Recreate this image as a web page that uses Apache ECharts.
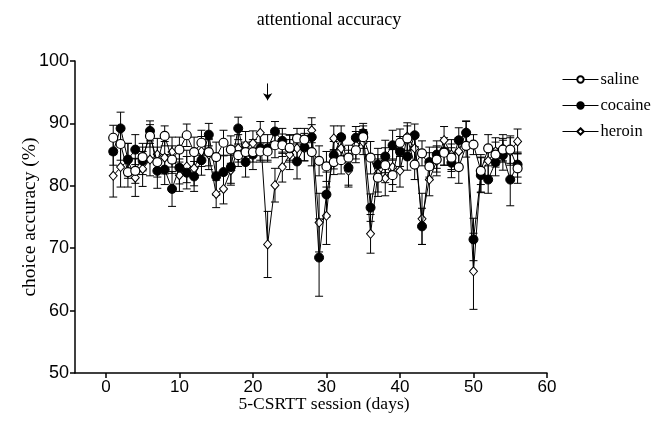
<!DOCTYPE html>
<html><head><meta charset="utf-8">
<script src="https://cdn.jsdelivr.net/npm/echarts@6/dist/echarts.min.js"></script>
<style>html,body{margin:0;padding:0;background:#fff}#c{width:658px;height:435px}</style>
</head><body><div id="c"></div>
<script>
var sessions = [];
for (var i = 1; i <= 56; i++) sessions.push(i);
var xTicks = [0, 10, 20, 30, 40, 50, 60];
var salineMean = [87.7,86.7,82.2,82.4,84.6,88.0,83.8,88.0,84.2,85.8,88.1,85.4,86.9,85.4,84.6,86.9,85.8,84.9,85.4,85.4,85.5,85.5,86.5,86.5,86.1,87.6,87.4,85.4,84.0,83.1,83.8,84.1,84.5,85.7,87.8,84.5,81.3,83.3,81.7,86.9,87.6,83.4,85.2,83.1,84.2,85.3,84.5,83.0,86.4,86.6,82.4,86.0,85.0,85.8,85.8,82.8];
var salineSem = [2.0,2.6,2.4,2.0,2.2,1.8,2.4,1.6,2.2,2.0,1.8,2.4,2.0,2.2,2.4,2.0,2.2,1.8,1.6,1.6,1.4,1.4,2.0,1.8,2.0,1.6,1.8,2.2,2.4,2.4,2.0,2.2,2.0,2.0,1.8,2.6,3.0,2.8,2.6,2.2,2.0,2.4,2.0,2.2,2.0,2.0,2.2,2.6,1.8,1.6,2.2,2.2,2.0,1.8,2.2,2.4];
var cocaineMean = [85.5,89.2,84.2,85.8,84.0,88.8,82.4,82.6,79.5,82.9,82.1,81.5,84.1,88.2,81.5,82.2,83.0,89.2,83.8,85.0,86.0,86.0,88.7,87.2,86.0,83.9,86.2,87.8,68.5,78.6,84.9,87.8,82.9,87.7,88.4,76.5,83.4,84.7,86.5,85.5,84.7,88.1,73.5,83.8,85.0,85.5,83.7,87.3,88.5,71.4,81.7,81.0,83.8,84.9,81.0,83.4];
var cocaineSem = [2.2,2.6,2.6,2.4,2.2,1.6,2.8,2.4,2.8,2.6,2.6,2.4,2.4,1.8,3.0,2.6,2.6,1.8,2.4,2.4,2.2,2.2,1.6,2.0,2.2,2.8,2.2,2.0,6.2,3.6,2.2,1.8,2.8,1.8,1.6,2.2,2.6,2.6,2.4,2.4,2.2,1.8,2.9,2.4,2.2,2.2,2.4,2.0,1.8,3.4,2.8,2.2,2.2,2.4,4.2,2.0];
var heroinMean = [81.6,83.0,84.0,81.3,82.7,84.2,85.0,84.5,85.4,81.7,83.1,82.8,85.5,85.0,78.7,79.5,82.5,86.0,86.5,86.8,88.5,70.6,80.1,83.0,85.0,86.0,86.0,88.9,74.1,75.2,87.6,86.0,82.4,86.5,87.0,72.3,82.0,81.2,83.0,82.4,87.9,86.0,74.7,81.0,84.0,87.3,85.0,85.5,88.6,66.3,82.0,84.0,85.5,86.0,85.5,87.1];
var heroinSem = [3.4,3.2,2.8,3.0,2.8,2.6,2.6,2.6,2.4,2.6,2.6,2.8,2.4,2.4,2.2,2.4,2.4,2.2,2.2,2.0,1.8,5.3,2.7,2.4,2.4,2.2,2.0,2.0,4.7,4.6,2.0,2.2,2.6,2.2,2.0,3.1,3.0,2.8,2.8,2.6,2.2,2.4,4.1,2.6,2.4,2.2,2.4,2.2,1.8,6.1,3.0,2.4,2.2,2.2,2.2,2.0];
var arrowSession = 22;

function pts(m){ return sessions.map(function(s,i){ return [s, m[i]]; }); }
function errs(m, e){ return sessions.map(function(s,i){ return [s, m[i], e[i]]; }); }

function errRender(params, api){
  var x = api.value(0), y = api.value(1), e = api.value(2);
  var top = api.coord([x, y + e]), bot = api.coord([x, y - e]);
  var w = 4;
  var st = {stroke:'#000', lineWidth:1};
  return {type:'group', children:[
    {type:'line', shape:{x1:top[0], y1:top[1], x2:bot[0], y2:bot[1]}, style:st},
    {type:'line', shape:{x1:top[0]-w, y1:top[1], x2:top[0]+w, y2:top[1]}, style:st},
    {type:'line', shape:{x1:bot[0]-w, y1:bot[1], x2:bot[0]+w, y2:bot[1]}, style:st}
  ]};
}
function errSeries(m, e, z){
  return {type:'custom', data:errs(m,e), renderItem:errRender, encode:{x:0,y:1}, z:z, silent:true};
}

var chart = echarts.init(document.getElementById('c'), null, {renderer:'canvas'});
chart.setOption({
  animation:false,
  backgroundColor:'#fff',
  title:{text:'attentional accuracy', left:'center', top:6, textStyle:{fontFamily:'Liberation Serif', fontSize:18, fontWeight:'normal', color:'#000'}},
  grid:{left:75, right:111, top:61, bottom:62},
  legend:{orient:'vertical', left:557, top:66, itemWidth:36, itemHeight:8, itemGap:9,
    lineStyle:{width:1},
    textStyle:{fontFamily:'Liberation Serif', fontSize:16.5, color:'#000', padding:[0,0,0,-3]},
    data:['saline','cocaine','heroin']},
  xAxis:{type:'value', min:-4.2, max:60,
    name:'5-CSRTT session (days)', nameLocation:'middle', nameGap:22, nameMoveOverlap:false,
    nameTextStyle:{fontFamily:'Liberation Serif', fontSize:17.5, color:'#000', padding:[0,0,0,26]},
    axisLine:{lineStyle:{color:'#000', width:1.5}},
    axisTick:{customValues:xTicks, length:5, lineStyle:{color:'#000', width:1.5}},
    axisLabel:{customValues:xTicks, fontFamily:'Liberation Sans', fontSize:17, color:'#000', margin:6},
    splitLine:{show:false}},
  yAxis:{type:'value', min:50, max:100, interval:10,
    name:'choice accuracy (%)', nameLocation:'middle', nameGap:35, nameMoveOverlap:false,
    nameTextStyle:{fontFamily:'Liberation Serif', fontSize:19.5, color:'#000'},
    axisLine:{show:true, onZero:false, lineStyle:{color:'#000', width:1.5}},
    axisTick:{show:true, length:5, lineStyle:{color:'#000', width:1.5}},
    axisLabel:{fontFamily:'Liberation Sans', fontSize:18, color:'#000', margin:6},
    splitLine:{show:false}},
  series:[
    errSeries(heroinMean, heroinSem, 2),
    errSeries(cocaineMean, cocaineSem, 2),
    errSeries(salineMean, salineSem, 2),
    {name:'saline', type:'line', data:pts(salineMean), z:6, symbol:'circle', symbolSize:9, showAllSymbol:true,
      lineStyle:{color:'#000', width:1}, itemStyle:{color:'#fff', borderColor:'#000', borderWidth:1.2}},
    {name:'cocaine', type:'line', data:pts(cocaineMean), z:5, symbol:'circle', symbolSize:9, showAllSymbol:true,
      lineStyle:{color:'#000', width:1}, itemStyle:{color:'#000', borderColor:'#000', borderWidth:1}},
    {name:'heroin', type:'line', data:pts(heroinMean), z:4, symbol:'diamond', symbolSize:[8,9], showAllSymbol:true,
      lineStyle:{color:'#000', width:1}, itemStyle:{color:'#fff', borderColor:'#000', borderWidth:1},
      markLine:{silent:true, symbol:['none','arrow'], symbolSize:7, label:{show:false},
        lineStyle:{color:'#000', width:1, type:'solid'},
        data:[[{coord:[arrowSession, 96.4]},{coord:[arrowSession, 93.7]}]]}}
  ]
});
</script></body></html>
